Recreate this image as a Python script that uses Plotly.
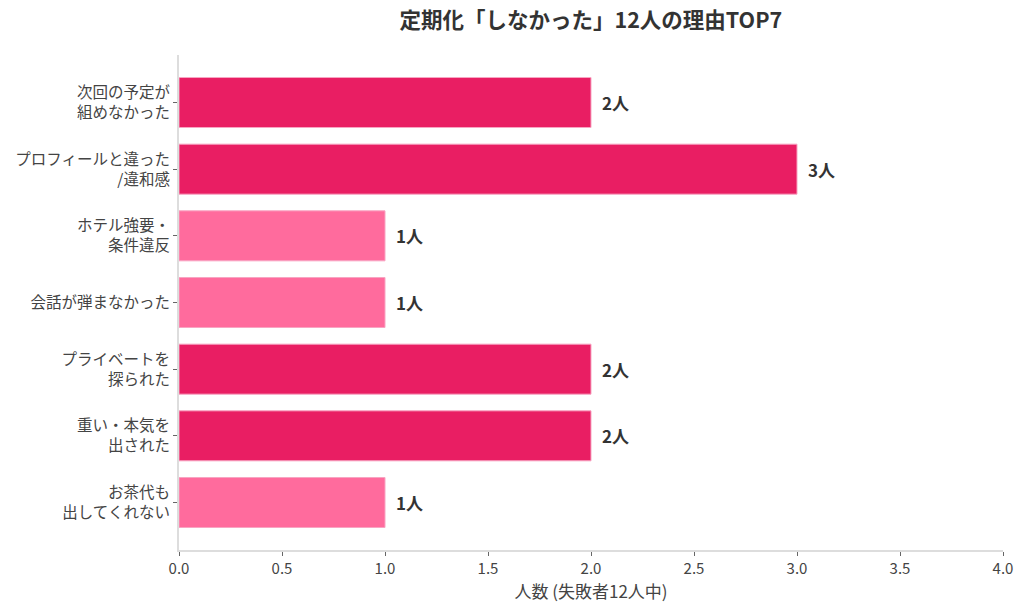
import plotly.graph_objects as go

# reasons (top to bottom) and counts
reasons = [
    "次回の予定が<br>組めなかった",
    "プロフィールと違った<br>/違和感",
    "ホテル強要・<br>条件違反",
    "会話が弾まなかった",
    "プライベートを<br>探られた",
    "重い・本気を<br>出された",
    "お茶代も<br>出してくれない",
]
counts = [2, 3, 1, 1, 2, 2, 1]
labels = [f"{c}人" for c in counts]

dark = "#E91E63"
light = "#FF6B9D"
colors = [dark if c >= 2 else light for c in counts]
font = "Noto Sans CJK JP"

fig = go.Figure(go.Bar(
    x=counts, y=list(range(len(reasons))), orientation="h",
    width=0.75,
    marker=dict(color=colors, line=dict(color="#F8A5C2", width=1)),
))

# value labels to the right of each bar
for i, (c, t) in enumerate(zip(counts, labels)):
    fig.add_annotation(x=c, y=i, text=f"<b>{t}</b>", showarrow=False,
                       xanchor="left", xshift=9,
                       font=dict(family=font, size=17, color="#333"))

fig.update_layout(
    width=1024, height=610,
    margin=dict(l=179, r=21, t=55, b=60),
    paper_bgcolor="white", plot_bgcolor="white",
    font=dict(family=font, color="#444"),
    title=dict(text="<b>定期化「しなかった」12人の理由TOP7</b>",
               x=0.577, xanchor="center", y=0.967, yanchor="middle",
               font=dict(family=font, size=21.5, color="#333")),
    showlegend=False,
)
fig.update_xaxes(range=[0, 4], dtick=0.5, tickformat=".1f",
                 showgrid=False, zeroline=False,
                 showline=True, linecolor="#DDDDDD", linewidth=2,
                 ticks="outside", ticklen=4, tickcolor="#666",
                 tickfont=dict(size=15, color="#444"),
                 title=dict(text="人数 (失敗者12人中)", standoff=4,
                            font=dict(size=17, color="#444")))
fig.update_yaxes(range=[6.7125, -0.7125],
                 tickvals=list(range(len(reasons))), ticktext=reasons,
                 showgrid=False, zeroline=False,
                 showline=True, linecolor="#DDDDDD", linewidth=2,
                 ticks="outside", ticklen=4, tickcolor="#666",
                 tickfont=dict(size=15.5, color="#444"))

fig.write_html("out.html", config={"displayModeBar": False},
               post_script="document.body.style.margin='0';")
